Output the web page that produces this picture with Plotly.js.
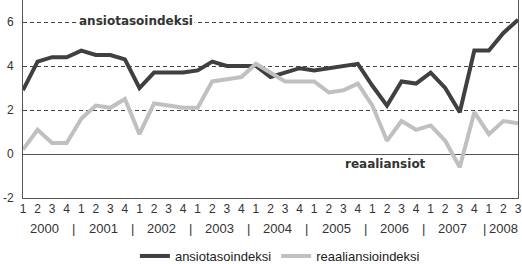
<!DOCTYPE html>
<html>
<head>
<meta charset="utf-8">
<script src="https://cdn.plot.ly/plotly-3.0.1.min.js"></script>
<style>html,body{margin:0;padding:0;background:#fff;}#chart{width:522px;height:264px;}</style>
</head>
<body>
<div id="chart"></div>
<script>
const yearLabels = ['2000','2001','2002','2003','2004','2005','2006','2007','2008'];
const quarterLabels = ['1','2','3','4'];
const quartersInYear = [4,4,4,4,4,4,4,4,3];

const ansiotasoindeksi = [2.9,4.2,4.4,4.4, 4.7,4.5,4.5,4.3, 3.0,3.7,3.7,3.7, 3.8,4.2,4.0,4.0,
  4.0,3.5,3.7,3.9, 3.8,3.9,4.0,4.1, 3.1,2.2,3.3,3.2, 3.7,3.0,1.9,4.7, 4.7,5.5,6.1];
const reaaliansioindeksi = [0.2,1.1,0.5,0.5, 1.6,2.2,2.1,2.5, 0.9,2.3,2.2,2.1, 2.1,3.3,3.4,3.5,
  4.1,3.7,3.3,3.3, 3.3,2.8,2.9,3.2, 2.2,0.6,1.5,1.1, 1.3,0.6,-0.6,1.9, 0.9,1.5,1.4];

const seriesNames = ['ansiotasoindeksi','reaaliansioindeksi'];
const insideLabels = ['ansiotasoindeksi','reaaliansiot'];

// build categories
const periods = [], qText = [], yearCenters = [], separators = [];
let idx = 0;
yearLabels.forEach((y, yi) => {
  const n = quartersInYear[yi];
  const start = idx;
  for (let q = 0; q < n; q++) { periods.push(y + '-' + quarterLabels[q]); qText.push(quarterLabels[q]); idx++; }
  yearCenters.push((start + idx - 1) / 2);
  if (yi > 0) separators.push(start - 0.5);
});

const traces = [
  {x: periods, y: ansiotasoindeksi, name: seriesNames[0], type: 'scatter', mode: 'lines',
   line: {color: '#404040', width: 4}},
  {x: periods, y: reaaliansioindeksi, name: seriesNames[1], type: 'scatter', mode: 'lines',
   line: {color: '#c0c0c0', width: 4}}
];

const tickFont = {family: 'Liberation Sans, Arial, sans-serif', size: 12, color: '#333'};
const yearFont = {family: 'Liberation Sans, Arial, sans-serif', size: 13, color: '#333'};
const annotations = [];
yearLabels.forEach((y, i) => {
  annotations.push({text: y, x: yearCenters[i], xref: 'x', yref: 'paper', y: -0.152,
    yanchor: 'middle', xanchor: 'center', showarrow: false, font: yearFont});
});
separators.forEach((s, i) => {
  annotations.push({text: '|', x: s, xref: 'x', yref: 'paper', y: -0.152, yanchor: 'middle',
    xanchor: 'center', showarrow: false, xshift: (i === separators.length - 1) ? 3 : 0,
    font: yearFont});
});
annotations.push({text: insideLabels[0], xref: 'paper', x: 0.228, yref: 'y', y: 6.05,
  xanchor: 'center', yanchor: 'middle', showarrow: false, bgcolor: '#fff', borderpad: 1,
  font: {family: 'DejaVu Sans', weight: 'bold', size: 12, color: '#333'}});
annotations.push({text: insideLabels[1], xref: 'paper', x: 0.732, yref: 'y', y: -0.45,
  xanchor: 'center', yanchor: 'middle', showarrow: false,
  font: {family: 'DejaVu Sans', weight: 'bold', size: 12, color: '#333'}});

const layout = {
  width: 522, height: 264,
  margin: {l: 23, r: 4, t: 0, b: 66, pad: 0, autoexpand: false},
  paper_bgcolor: '#fff', plot_bgcolor: '#fff',
  showlegend: true,
  legend: {orientation: 'h', x: 0.519, xanchor: 'center', y: -0.293, yanchor: 'middle',
    itemwidth: 30, tracegroupgap: 0,
    font: {family: 'Liberation Sans, Arial, sans-serif', size: 13, color: '#222'}},
  xaxis: {type: 'category', range: [0, periods.length - 1], tickmode: 'array',
    tickvals: periods, ticktext: qText, tickangle: 0, showgrid: false, zeroline: false,
    showline: true, mirror: true, linecolor: '#555', linewidth: 1, ticks: '',
    tickfont: tickFont, fixedrange: true, automargin: false},
  yaxis: {range: [-2, 7], tickvals: [-2, 0, 2, 4, 6], ticktext: ['-2','0','2','4','6'],
    showgrid: true, gridcolor: '#444', gridwidth: 1, griddash: '4px,3px',
    zeroline: true, zerolinecolor: '#555', zerolinewidth: 1,
    showline: true, mirror: true, linecolor: '#555', linewidth: 1, ticks: '',
    ticklabelstandoff: 6, tickfont: tickFont, fixedrange: true, automargin: false},
  annotations: annotations
};

Plotly.newPlot('chart', traces, layout, {displayModeBar: false, staticPlot: true});
</script>
</body>
</html>
